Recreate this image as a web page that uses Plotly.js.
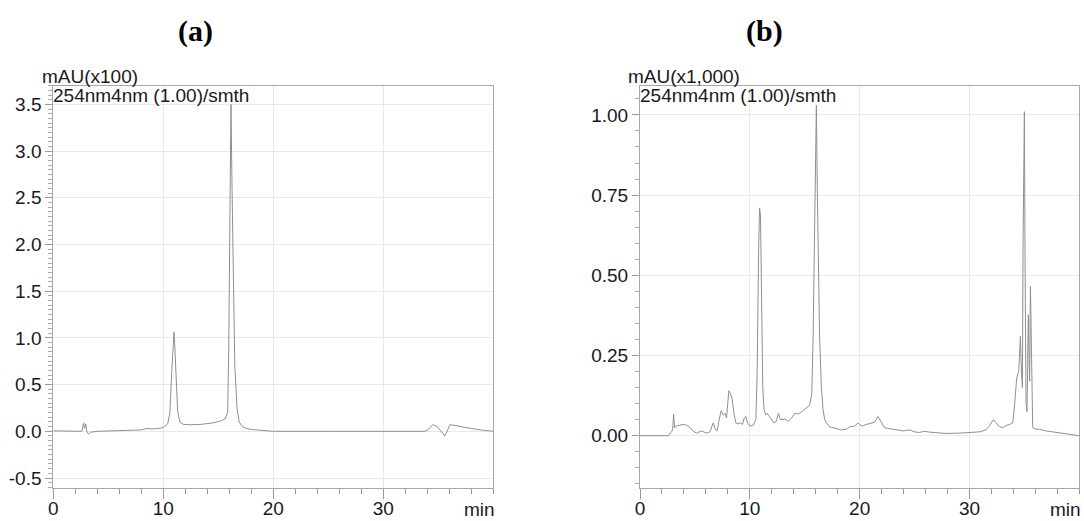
<!DOCTYPE html>
<html>
<head>
<meta charset="utf-8">
<script src="https://cdn.plot.ly/plotly-3.0.1.min.js"></script>
<style>html,body{margin:0;padding:0;background:#fff;}#chart{width:1084px;height:521px;}</style>
</head>
<body>
<div id="chart"></div>
<script>
// Panel (a): retention time (min) and signal (mAU x100)
var timeA = [0, 1, 2, 2.6, 2.75, 2.85, 2.95, 3.05, 3.2, 3.4,
  4, 5, 6, 7, 7.5, 8, 8.5, 9, 9.5, 10,
  10.4, 10.6, 10.75, 10.9, 10.97, 11.05, 11.15, 11.3, 11.5, 11.8,
  12.5, 13.5, 14.5, 15.2, 15.6, 15.85, 15.95, 16.05, 16.15, 16.25,
  16.35, 16.5, 16.7, 16.9, 17.2, 17.6, 18, 19, 20, 25,
  30, 33.8, 34.1, 34.5, 34.9, 35.2, 35.45, 35.6, 35.8, 36.05,
  36.4, 37, 38, 39, 40];
var signalA = [0.005, 0.005, 0.005, 0.0, 0.09, 0.03, 0.08, 0.0, -0.03, -0.01,
  0.0, 0.005, 0.01, 0.015, 0.02, 0.015, 0.03, 0.025, 0.03, 0.04,
  0.08, 0.2, 0.6, 0.95, 1.06, 0.9, 0.55, 0.22, 0.1, 0.075,
  0.07, 0.075, 0.09, 0.11, 0.13, 0.2, 0.9, 2.5, 3.5, 2.6,
  1.6, 0.7, 0.25, 0.1, 0.05, 0.03, 0.02, 0.01, 0.0, 0.0,
  0.0, 0.0, 0.02, 0.072, 0.05, 0.01, -0.03, -0.05, 0.0, 0.07,
  0.065, 0.05, 0.03, 0.012, 0.0];

// Panel (b): retention time (min) and signal (mAU x1,000)
var timeB = [0, 2.58, 2.73, 2.88, 2.97, 3.06, 3.15, 3.33, 3.64, 3.94,
  4.24, 4.55, 4.85, 5.15, 5.6, 6.06, 6.36, 6.67, 6.85, 7.03,
  7.21, 7.39, 7.58, 7.76, 7.88, 8.09, 8.24, 8.39, 8.55, 8.73,
  8.94, 9.15, 9.33, 9.48, 9.64, 9.79, 10.0, 10.3, 10.55, 10.67,
  10.79, 10.88, 10.97, 11.06, 11.18, 11.3, 11.45, 11.58, 11.76, 11.97,
  12.18, 12.42, 12.6, 12.79, 13.03, 13.2, 13.5, 13.8, 14.1, 14.42,
  14.73, 15.15, 15.45, 15.64, 15.76, 15.88, 15.97, 16.06, 16.15, 16.24,
  16.36, 16.52, 16.67, 16.82, 16.97, 17.27, 17.58, 18.03, 18.33, 18.79,
  19.1, 19.55, 19.85, 20.0, 20.24, 20.6, 21.06, 21.36, 21.67, 21.97,
  22.27, 22.73, 23.33, 23.94, 24.55, 25.0, 25.45, 25.9, 26.36, 26.97,
  27.88, 29.1, 30.0, 30.9, 31.5, 31.8, 32.18, 32.42, 32.73, 33.03,
  33.33, 33.64, 33.94, 34.12, 34.3, 34.48, 34.64, 34.73, 34.82, 34.88,
  34.94, 35.0, 35.06, 35.15, 35.24, 35.3, 35.36, 35.42, 35.48, 35.55,
  35.64, 35.76, 36.06, 36.36, 36.97, 37.58, 38.18, 38.8, 39.4, 40];
var signalB = [0, 0, 0.008, 0.012, 0.02, 0.067, 0.025, 0.03, 0.033, 0.035,
  0.033, 0.025, 0.014, 0.008, 0.015, 0.008, 0.012, 0.04, 0.02, 0.015,
  0.05, 0.078, 0.064, 0.07, 0.055, 0.14, 0.13, 0.115, 0.07, 0.04,
  0.037, 0.04, 0.035, 0.055, 0.06, 0.04, 0.03, 0.033, 0.05, 0.2,
  0.55, 0.71, 0.69, 0.45, 0.15, 0.08, 0.065, 0.07, 0.06, 0.05,
  0.04, 0.045, 0.07, 0.05, 0.05, 0.052, 0.045, 0.055, 0.07, 0.068,
  0.075, 0.085, 0.095, 0.13, 0.3, 0.6, 0.8, 1.03, 0.75, 0.5,
  0.3, 0.15, 0.08, 0.05, 0.04, 0.028, 0.025, 0.022, 0.018, 0.02,
  0.028, 0.03, 0.04, 0.035, 0.03, 0.035, 0.04, 0.042, 0.06, 0.042,
  0.025, 0.022, 0.018, 0.015, 0.018, 0.012, 0.01, 0.014, 0.011, 0.009,
  0.007, 0.008, 0.01, 0.012, 0.018, 0.03, 0.05, 0.04, 0.028, 0.025,
  0.032, 0.035, 0.04, 0.1, 0.18, 0.2, 0.31, 0.2, 0.15, 0.6,
  0.78, 1.01, 0.55, 0.1, 0.075, 0.2, 0.377, 0.25, 0.17, 0.465,
  0.2, 0.025, 0.02, 0.02, 0.015, 0.012, 0.008, 0.005, 0.002, 0];

// Tick labels
var xTickVals = [0, 10, 20, 30];
var xTickText = ["0", "10", "20", "30"];
var yTickValsA = [-0.5, 0, 0.5, 1.0, 1.5, 2.0, 2.5, 3.0, 3.5];
var yTickTextA = ["-0.5", "0.0", "0.5", "1.0", "1.5", "2.0", "2.5", "3.0", "3.5"];
var yTickValsB = [0, 0.25, 0.5, 0.75, 1.0];
var yTickTextB = ["0.00", "0.25", "0.50", "0.75", "1.00"];

var W = 1084, H = 521;
function px(x) { return x / W; }
function py(y) { return 1 - y / H; }

var lineStyle = {color: '#8f8f8f', width: 1};
var tickFont = {family: 'Liberation Sans, Arial, sans-serif', size: 19, color: '#1a1a1a'};

var traces = [
  {x: timeA, y: signalA, type: 'scatter', mode: 'lines', line: lineStyle, xaxis: 'x', yaxis: 'y', hoverinfo: 'skip'},
  {x: timeB, y: signalB, type: 'scatter', mode: 'lines', line: lineStyle, xaxis: 'x2', yaxis: 'y2', hoverinfo: 'skip'}
];

function xAxis(domain, anchor) {
  return {
    domain: domain, anchor: anchor, range: [0, 40],
    tickmode: 'array', tickvals: xTickVals, ticktext: xTickText,
    ticks: 'outside', ticklen: 10, tickcolor: '#999', tickwidth: 1,
    ticklabelstandoff: -7,
    minor: {tick0: 0, dtick: 2, ticks: 'outside', ticklen: 5, tickcolor: '#999', showgrid: false},
    showgrid: true, gridcolor: '#e8e8e8', gridwidth: 1,
    showline: true, linecolor: '#a8a8a8', linewidth: 1, mirror: true,
    zeroline: false, tickfont: tickFont, automargin: false, fixedrange: true
  };
}
function yAxis(range, vals, text, minorD, anchor) {
  return {
    domain: [1 - 488 / H, 1 - 85.7 / H], anchor: anchor, range: range,
    tickmode: 'array', tickvals: vals, ticktext: text,
    ticks: 'outside', ticklen: 7, tickcolor: '#999', tickwidth: 1,
    minor: {tick0: 0, dtick: minorD, ticks: 'outside', ticklen: 4, tickcolor: '#aaa', showgrid: false},
    showgrid: true, gridcolor: '#e8e8e8', gridwidth: 1,
    showline: true, linecolor: '#a8a8a8', linewidth: 1, mirror: true,
    zeroline: false, tickfont: tickFont, automargin: false, fixedrange: true
  };
}

var annFont = {family: 'Liberation Sans, Arial, sans-serif', size: 19, color: '#1a1a1a'};
var titleFont = {family: 'Liberation Serif, Times New Roman, serif', size: 30, color: '#000', weight: 'bold'};
function ann(text, x, y, xanchor, font) {
  return {text: text, x: px(x), y: py(y), xref: 'paper', yref: 'paper', xanchor: xanchor, yanchor: 'middle', showarrow: false, font: font, borderpad: 0};
}

var layout = {
  width: W, height: H,
  margin: {l: 0, r: 0, t: 0, b: 0},
  paper_bgcolor: '#fff', plot_bgcolor: '#fff',
  showlegend: false,
  xaxis: xAxis([53.3 / W, 493.3 / W], 'y'),
  yaxis: yAxis([-0.607, 3.70], yTickValsA, yTickTextA, 0.05, 'x'),
  xaxis2: xAxis([640 / W, 1079.3 / W], 'y2'),
  yaxis2: yAxis([-0.163, 1.091], yTickValsB, yTickTextB, 0.05, 'x2'),
  annotations: [
    ann('<b>(a)</b>', 195.5, 31, 'center', titleFont),
    ann('<b>(b)</b>', 764, 31, 'center', titleFont),
    ann('mAU(x100)', 41, 76, 'left', annFont),
    ann('254nm4nm (1.00)/smth', 52, 95.5, 'left', annFont),
    ann('mAU(x1,000)', 627, 76, 'left', annFont),
    ann('254nm4nm (1.00)/smth', 638.5, 95.5, 'left', annFont),
    ann('min', 496, 509.5, 'right', annFont),
    ann('min', 1082, 509.5, 'right', annFont)
  ]
};

Plotly.newPlot('chart', traces, layout, {displayModeBar: false, staticPlot: true});
</script>
</body>
</html>
